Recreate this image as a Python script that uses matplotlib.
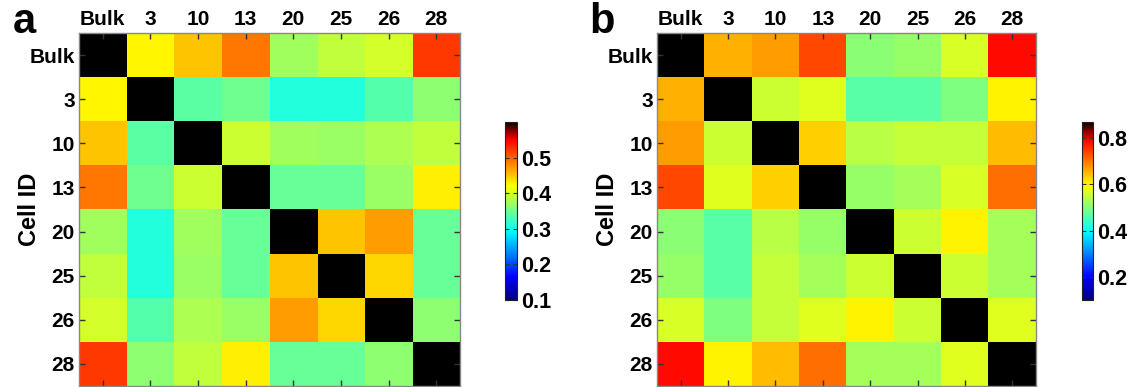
import numpy as np
import matplotlib
matplotlib.use("Agg")
import matplotlib.pyplot as plt
from matplotlib.colors import LinearSegmentedColormap

plt.rcParams['font.family'] = ['Liberation Sans', 'DejaVu Sans']
plt.rcParams['font.weight'] = 'bold'

cell_ids = ['Bulk', '3', '10', '13', '20', '25', '26', '28']

# pairwise correlation, panel a (diagonal = self)
corr_a = [
    [1.00, 0.425, 0.450, 0.490, 0.375, 0.390, 0.400, 0.520],
    [0.425, 1.00, 0.340, 0.350, 0.310, 0.310, 0.335, 0.365],
    [0.450, 0.340, 1.00, 0.395, 0.375, 0.370, 0.380, 0.390],
    [0.490, 0.350, 0.395, 1.00, 0.345, 0.345, 0.370, 0.430],
    [0.375, 0.310, 0.375, 0.345, 1.00, 0.450, 0.470, 0.345],
    [0.390, 0.310, 0.370, 0.345, 0.450, 1.00, 0.440, 0.345],
    [0.400, 0.335, 0.380, 0.370, 0.470, 0.440, 1.00, 0.365],
    [0.520, 0.365, 0.390, 0.430, 0.345, 0.345, 0.365, 1.00],
]

# pairwise correlation, panel b
corr_b = [
    [1.00, 0.655, 0.670, 0.735, 0.505, 0.515, 0.565, 0.785],
    [0.655, 1.00, 0.555, 0.570, 0.465, 0.465, 0.495, 0.605],
    [0.670, 0.555, 1.00, 0.630, 0.540, 0.550, 0.550, 0.645],
    [0.735, 0.570, 0.630, 1.00, 0.515, 0.525, 0.565, 0.705],
    [0.505, 0.465, 0.540, 0.515, 1.00, 0.555, 0.605, 0.525],
    [0.515, 0.465, 0.550, 0.525, 0.555, 1.00, 0.555, 0.525],
    [0.565, 0.495, 0.550, 0.570, 0.605, 0.555, 1.00, 0.570],
    [0.785, 0.605, 0.645, 0.705, 0.525, 0.525, 0.570, 1.00],
]

clim_a = (0.1, 0.6)
clim_b = (0.1, 0.87)
cbar_ticks_a = [0.1, 0.2, 0.3, 0.4, 0.5]
cbar_ticks_b = [0.2, 0.4, 0.6, 0.8]

# jet that runs into black at the top end
jet_black = LinearSegmentedColormap.from_list('jet_black', [
    (0.0, (0.0, 0.0, 0.5)),
    (0.1286, (0.0, 0.0, 1.0)),
    (0.3857, (0.0, 1.0, 1.0)),
    (0.6429, (1.0, 1.0, 0.0)),
    (0.90, (1.0, 0.0, 0.0)),
    (0.95, (0.55, 0.0, 0.0)),
    (1.0, (0.0, 0.0, 0.0)),
], N=256)

fig = plt.figure(figsize=(11.35, 3.87), dpi=100)

panels = [
    ('a', corr_a, clim_a, cbar_ticks_a,
     [0.0696, 0.0026, 0.3357, 0.9121], [0.4449, 0.2248, 0.0110, 0.460], (0.011, 0.915)),
    ('b', corr_b, clim_b, cbar_ticks_b,
     [0.5789, 0.0026, 0.3339, 0.9121], [0.9533, 0.2248, 0.0100, 0.460], (0.519, 0.915)),
]

for letter, mat, clim, cticks, ax_rect, cb_rect, letter_pos in panels:
    ax = fig.add_axes(ax_rect)
    n = len(cell_ids)
    im = ax.imshow(np.array(mat), cmap=jet_black, vmin=clim[0], vmax=clim[1],
                   aspect='auto', interpolation='nearest',
                   extent=(-0.5, n - 0.5, n - 0.5, -0.5))
    ax.set_xticks(range(n))
    ax.set_yticks(range(n))
    ax.set_xticklabels(cell_ids)
    ax.set_yticklabels(cell_ids)
    ax.tick_params(axis='both', direction='in', length=4, width=1, color='#333333',
                   labelsize=15, top=True, bottom=True, left=True, right=True,
                   labeltop=True, labelbottom=False, pad=3)
    for sp in ax.spines.values():
        sp.set_color('#888888')
        sp.set_linewidth(1.0)
    ax.set_ylabel('Cell ID', fontsize=17, fontweight='bold')
    ax.yaxis.set_label_coords(-0.10, 0.5)

    cax = fig.add_axes(cb_rect)
    cb = fig.colorbar(im, cax=cax, ticks=cticks)
    cb.ax.tick_params(direction='in', length=3, width=0.8, labelsize=15.5, pad=3,
                      left=True, right=True, color='#333333')
    cb.ax.set_yticklabels([f'{t:.1f}' for t in cticks])
    cb.outline.set_edgecolor('#222222')
    cb.outline.set_linewidth(0.8)

    fig.text(letter_pos[0], letter_pos[1], letter, fontsize=30, fontweight='bold',
             ha='left', va='baseline')

fig.savefig('out.png', dpi=100)
